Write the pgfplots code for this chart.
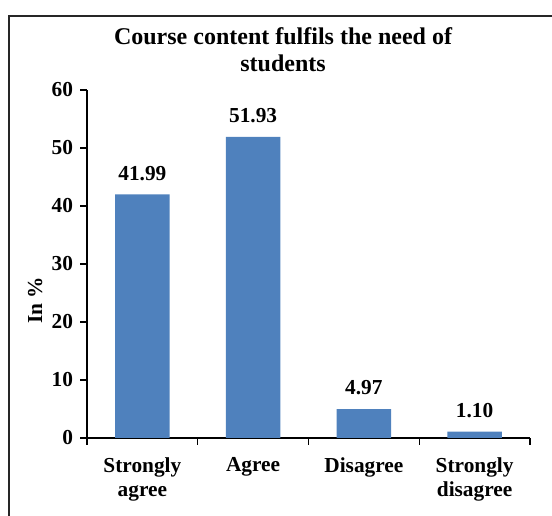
\documentclass[border=0pt]{standalone}
\usepackage{pgfplots}
\pgfplotsset{compat=1.18}
\usepackage{fontspec}
\setmainfont{Liberation Serif}
\definecolor{barblue}{HTML}{4F81BD}

\begin{document}
\begin{tikzpicture}
% picture frame, 1 px = 0.75 pt
\path[use as bounding box] (-65.25pt,-58.5pt) rectangle (348.75pt,328.5pt);
\draw[line width=0.9pt, black!85] (-58.5pt,-70pt) -- (-58.5pt,316.5pt) -- (360pt,316.5pt);
\begin{axis}[
    scale only axis,
    width=332.25pt,
    height=261pt,
    ybar,
    bar width=0.49,
    xmin=-0.5, xmax=3.5,
    ymin=0, ymax=60,
    ytick={0,10,...,60},
    xtick={0,1,2,3},
    xticklabels={Strongly\\agree, Agree, Disagree, Strongly\\disagree},
    major x tick style={draw=none},
    minor xtick={-0.5,0.5,1.5,2.5,3.5},
    minor tick length=5pt,
    major tick length=5pt,
    tick align=outside,
    axis x line*=bottom,
    axis y line*=left,
    axis line style={line width=0.9pt},
    tick style={line width=0.9pt, black},
    font=\fontsize{16}{18.5}\selectfont\bfseries,
    /pgf/number format/assume math mode=true,
    xticklabel style={align=center, yshift=-6pt},
    yticklabel style={xshift=-2pt},
    title={Course content fulfils the need of\\students},
    title style={at={(rel axis cs:0.4425,1.092)}, anchor=center, align=center,
                 font=\fontsize{18}{20.25}\selectfont\bfseries},
    ylabel={In \%},
    ylabel style={at={(rel axis cs:-0.117,0.396)}, anchor=center},
    nodes near coords,
    nodes near coords style={/pgf/number format/.cd, fixed, fixed zerofill, precision=2,
                             /tikz/.cd, anchor=south, yshift=7pt},
]
\addplot[fill=barblue, draw=none] coordinates {(0,41.99) (1,51.93) (2,4.97) (3,1.10)};
\end{axis}
\end{tikzpicture}
\end{document}
